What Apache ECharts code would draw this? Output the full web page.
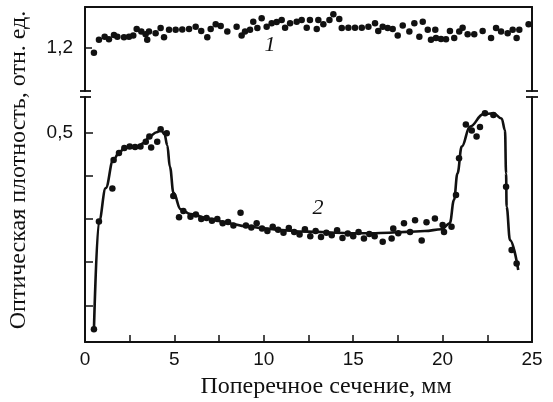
<!DOCTYPE html>
<html><head><meta charset="utf-8">
<script src="https://cdn.jsdelivr.net/npm/echarts@6/dist/echarts.min.js"></script>
<style>html,body{margin:0;padding:0;background:#fff}#c{width:553px;height:402px}</style>
</head><body><div id="c"></div>
<script>
// Series 1 (top panel): scatter points
const s1X = [0.5,0.78,1.1,1.34,1.62,1.81,2.18,2.46,2.7,2.89,3.15,3.39,3.48,3.58,3.95,4.23,4.42,4.7,5.07,5.44,5.82,6.19,6.5,6.84,7.03,7.31,7.59,7.96,
  8.48,8.76,8.95,9.23,9.41,9.64,9.88,10.16,10.44,10.72,11.0,11.19,11.47,11.84,12.12,12.4,12.58,12.96,13.05,13.33,13.67,13.89,14.22,14.36,14.73,15.1,15.48,15.85,16.22,16.4,
  16.65,16.93,17.21,17.49,17.77,18.14,18.42,18.7,18.89,19.17,19.35,19.59,19.63,19.91,20.19,20.41,20.65,20.93,21.12,21.4,21.77,22.24,22.71,22.99,23.27,23.64,23.92,24.14,24.29,24.81];
const s1Y = [1.189,1.219,1.226,1.22,1.23,1.226,1.225,1.226,1.229,1.244,1.238,1.232,1.219,1.238,1.234,1.246,1.225,1.242,1.242,1.243,1.244,1.249,1.239,1.225,1.244,1.255,1.251,1.238,
  1.249,1.229,1.238,1.242,1.261,1.246,1.269,1.249,1.257,1.26,1.265,1.247,1.257,1.261,1.265,1.247,1.265,1.244,1.265,1.255,1.265,1.278,1.267,1.246,1.247,1.247,1.247,1.249,1.257,1.239,
  1.249,1.246,1.244,1.229,1.252,1.238,1.257,1.226,1.261,1.242,1.219,1.242,1.223,1.221,1.22,1.239,1.223,1.238,1.247,1.232,1.232,1.239,1.223,1.246,1.238,1.234,1.242,1.223,1.242,1.255];

// Series 2 (bottom panel): scatter points
const s2X = [0.5,0.78,1.53,1.6,1.9,2.2,2.5,2.8,3.1,3.4,3.6,3.7,4.04,4.23,4.57,4.94,5.26,5.5,
  5.9,6.2,6.5,6.8,7.1,7.4,7.7,8.0,8.3,8.7,9.0,9.3,9.6,9.9,10.2,10.5,10.8,11.1,11.4,11.7,12.0,12.3,12.6,12.9,13.2,13.5,13.8,14.1,14.4,14.7,15.0,15.3,15.6,15.9,16.2,
  16.65,17.15,17.24,17.52,17.84,18.18,18.46,18.83,19.1,19.57,20.0,20.08,20.5,20.75,20.92,21.3,21.63,21.9,22.09,22.37,22.84,23.55,23.86,24.14];
const s2Y = [0.045,0.294,0.37,0.436,0.452,0.464,0.467,0.466,0.467,0.478,0.49,0.465,0.478,0.507,0.498,0.353,0.304,0.318,
  0.305,0.31,0.3,0.302,0.296,0.3,0.29,0.293,0.285,0.314,0.285,0.28,0.29,0.278,0.272,0.282,0.275,0.268,0.279,0.27,0.264,0.276,0.26,0.272,0.258,0.268,0.262,0.274,0.256,0.266,0.26,0.27,0.255,0.265,0.26,
  0.247,0.255,0.278,0.267,0.29,0.27,0.297,0.25,0.292,0.301,0.286,0.27,0.282,0.355,0.44,0.518,0.504,0.49,0.512,0.544,0.54,0.374,0.228,0.197];

// Series 2 fitted curve
const c2X = [0.5,0.78,1.16,1.58,1.9,2.2,2.9,3.3,3.6,4.0,4.25,4.45,4.6,4.75,4.95,5.35,5.9,7,8,9,10,11,12,13,14,15,16,17,18,19,19.95,20.4,20.64,20.83,21.07,21.53,22.28,22.84,23.3,23.49,23.55,23.58,23.77,24.23];
const c2Y = [0.045,0.294,0.371,0.436,0.452,0.464,0.467,0.475,0.49,0.5,0.505,0.495,0.47,0.42,0.36,0.322,0.311,0.3,0.29,0.283,0.278,0.274,0.271,0.27,0.268,0.267,0.267,0.268,0.27,0.272,0.276,0.29,0.344,0.405,0.467,0.513,0.542,0.544,0.532,0.505,0.405,0.328,0.251,0.182];

const xLabels = [0,5,10,15,20,25];
const xTicks = [2.5,5,7.5,10,12.5,15,17.5,20,22.5];
const topTicks = [1.2];
const lowTicks = [0.1,0.2,0.3,0.4,0.5];
const lowLabels = [0.5];

const ink = '#111';
const fmt = v => v.toFixed(1).replace('.', ',');
const zip = (a,b) => a.map((v,i)=>[v,b[i]]);

const chart = echarts.init(document.getElementById('c'));
const lineStyle = {color: ink, width: 2};
chart.setOption({
  animation: false,
  backgroundColor: '#fff',
  grid: [
    {left: 85, right: 21, top: 7, height: 84},
    {left: 85, right: 21, top: 97, height: 245}
  ],
  xAxis: [
    {gridIndex: 0, type: 'value', min: 0, max: 25, position: 'top',
     axisLine: {show: true, onZero: false, lineStyle}, axisTick: {show: false}, axisLabel: {show: false}, splitLine: {show: false}},
    {gridIndex: 1, type: 'value', min: 0, max: 25, position: 'bottom',
     axisLine: {show: true, onZero: false, lineStyle},
     axisTick: {show: true, inside: true, length: 7, customValues: xTicks, lineStyle: {color: ink, width: 1.5}},
     axisLabel: {customValues: xLabels, color: ink, fontFamily: 'Liberation Sans', fontSize: 19, margin: 8},
     splitLine: {show: false}}
  ],
  yAxis: [
    {gridIndex: 0, type: 'value', min: 1.1, max: 1.295, position: 'left',
     axisLine: {show: true, onZero: false, lineStyle},
     axisTick: {show: true, inside: true, length: 7, customValues: topTicks, lineStyle: {color: ink, width: 1.5}},
     axisLabel: {customValues: topTicks, formatter: fmt, color: ink, fontFamily: 'Liberation Sans', fontSize: 19, margin: 12},
     splitLine: {show: false}},
    {gridIndex: 0, type: 'value', min: 1.1, max: 1.295, position: 'right',
     axisLine: {show: true, onZero: false, lineStyle}, axisTick: {show: false}, axisLabel: {show: false}, splitLine: {show: false}},
    {gridIndex: 1, type: 'value', min: 0.0157, max: 0.5815, position: 'left',
     axisLine: {show: true, onZero: false, lineStyle},
     axisTick: {show: true, inside: true, length: 8, customValues: lowTicks, lineStyle: {color: ink, width: 1.5}},
     axisLabel: {customValues: lowLabels, formatter: fmt, color: ink, fontFamily: 'Liberation Sans', fontSize: 19, margin: 12},
     splitLine: {show: false}},
    {gridIndex: 1, type: 'value', min: 0.0157, max: 0.5815, position: 'right',
     axisLine: {show: true, onZero: false, lineStyle}, axisTick: {show: false}, axisLabel: {show: false}, splitLine: {show: false}}
  ],
  series: [
    {type: 'scatter', xAxisIndex: 0, yAxisIndex: 0, data: zip(s1X, s1Y), symbolSize: 6.5, itemStyle: {color: ink, opacity: 1}},
    {type: 'line', xAxisIndex: 1, yAxisIndex: 2, data: zip(c2X, c2Y), smooth: 0.4, smoothMonotone: 'x', showSymbol: false,
     lineStyle: {color: ink, width: 2.6}},
    {type: 'scatter', xAxisIndex: 1, yAxisIndex: 2, data: zip(s2X, s2Y), symbolSize: 6.5, itemStyle: {color: ink, opacity: 1}}
  ],
  graphic: [
    {type: 'line', shape: {x1: 80, y1: 91, x2: 91, y2: 91}, style: {stroke: ink, lineWidth: 1.8}},
    {type: 'line', shape: {x1: 80, y1: 97, x2: 91, y2: 97}, style: {stroke: ink, lineWidth: 1.8}},
    {type: 'line', shape: {x1: 526, y1: 91, x2: 538, y2: 91}, style: {stroke: ink, lineWidth: 1.8}},
    {type: 'line', shape: {x1: 526, y1: 97, x2: 538, y2: 97}, style: {stroke: ink, lineWidth: 1.8}},
    {type: 'text', x: 19, y: 170, rotation: Math.PI / 2,
     style: {text: 'Оптическая плотность, отн. ед.', fill: ink, font: '24px "Liberation Serif"', align: 'center', verticalAlign: 'middle'}},
    {type: 'text', x: 326, y: 387,
     style: {text: 'Поперечное сечение, мм', fill: ink, font: '24px "Liberation Serif"', align: 'center', verticalAlign: 'middle'}},
    {type: 'text', x: 270, y: 45,
     style: {text: '1', fill: ink, font: 'italic 22px "Liberation Serif"', align: 'center', verticalAlign: 'middle'}},
    {type: 'text', x: 318, y: 208,
     style: {text: '2', fill: ink, font: 'italic 22px "Liberation Serif"', align: 'center', verticalAlign: 'middle'}}
  ]
});
</script></body></html>
